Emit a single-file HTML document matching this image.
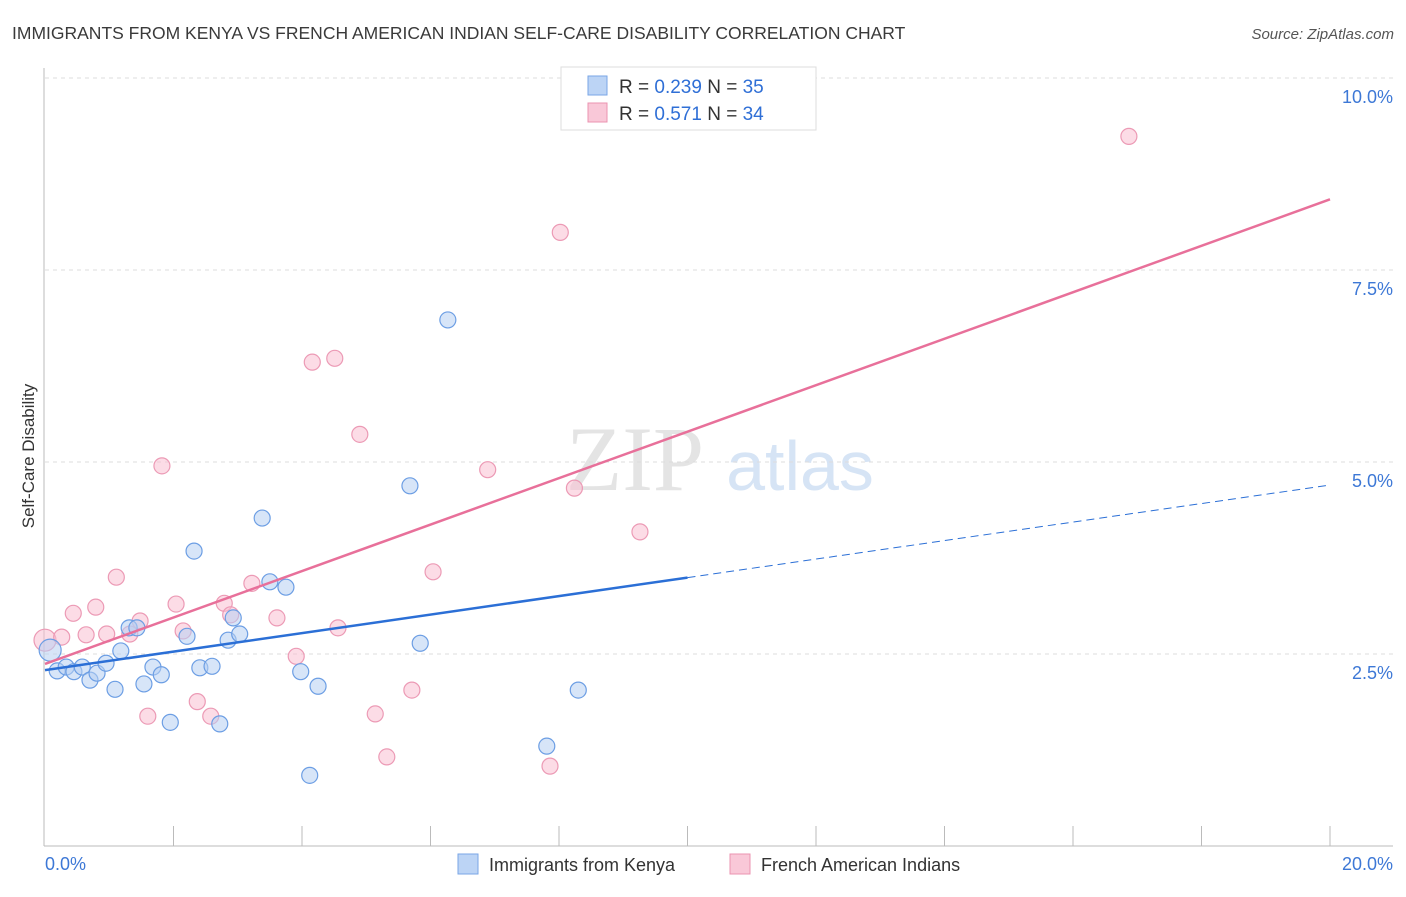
<!DOCTYPE html>
<html><head><meta charset="utf-8"><style>
body{margin:0;background:#fff;font-family:"Liberation Sans",sans-serif}
</style></head><body>
<svg width="1406" height="892" xmlns="http://www.w3.org/2000/svg" font-family="Liberation Sans, sans-serif">
<text x="12" y="39" font-size="17.5" fill="#3a3a3a">IMMIGRANTS FROM KENYA VS FRENCH AMERICAN INDIAN SELF-CARE DISABILITY CORRELATION CHART</text>
<text x="1394" y="39" font-size="15" fill="#555" font-style="italic" text-anchor="end">Source: ZipAtlas.com</text>
<g>
<text x="635" y="490" font-size="92" font-family="Liberation Serif, serif" fill="#e4e4e4" text-anchor="middle">ZIP</text>
<text x="800" y="490" font-size="70" fill="#d6e4f5" text-anchor="middle">atlas</text>
</g>
<g id="grid"></g>
<g id="axes"></g>
<g id="marks"></g>
<text transform="translate(34,456) rotate(-90)" font-size="17" fill="#333" text-anchor="middle">Self-Care Disability</text>
<g>
<rect x="561" y="67" width="255" height="63" fill="#fff" stroke="#ddd"/>
<rect x="588" y="76" width="19" height="19" fill="#bcd4f5" stroke="#7aa6e6"/>
<rect x="588" y="103" width="19" height="19" fill="#f9c8d8" stroke="#eb93b0"/>
<text x="619" y="93" font-size="19" fill="#333">R = <tspan fill="#2f6fd6">0.239</tspan>   N = <tspan fill="#2f6fd6">35</tspan></text>
<text x="619" y="120" font-size="19" fill="#333">R =  <tspan fill="#2f6fd6">0.571</tspan>   N = <tspan fill="#2f6fd6">34</tspan></text>
</g>
<g>
<rect x="458" y="854" width="20" height="20" fill="#bcd4f5" stroke="#7aa6e6"/>
<text x="489" y="871" font-size="18" fill="#333">Immigrants from Kenya</text>
<rect x="730" y="854" width="20" height="20" fill="#f9c8d8" stroke="#eb93b0"/>
<text x="761" y="871" font-size="18" fill="#333">French American Indians</text>
</g>
</svg>
<script>
const yTicks=[2.5,5.0,7.5,10.0];
const yTickLabels=["2.5%","5.0%","7.5%","10.0%"];
const xEndLabels=["0.0%","20.0%"];
const kenyaX=[0.08,0.19,0.33,0.45,0.58,0.70,0.81,0.95,1.09,1.18,1.31,1.43,1.54,1.68,1.81,1.95,2.21,2.32,2.41,2.60,2.72,2.85,2.93,3.03,3.38,3.50,3.75,3.98,4.12,4.25,5.68,5.84,6.27,7.81,8.30];
const kenyaY=[2.55,2.28,2.33,2.27,2.33,2.16,2.25,2.38,2.04,2.54,2.84,2.84,2.11,2.33,2.23,1.61,2.73,3.84,2.32,2.34,1.59,2.68,2.97,2.76,4.27,3.44,3.37,2.27,0.92,2.08,4.69,2.64,6.85,1.30,2.03];
const frenchX=[0.00,0.26,0.44,0.64,0.79,0.96,1.11,1.32,1.48,1.60,1.82,2.04,2.15,2.37,2.58,2.79,2.89,3.22,3.61,3.91,4.16,4.51,4.56,4.90,5.14,5.32,5.71,6.04,6.89,7.86,8.02,8.24,9.26,16.87];
const frenchY=[2.68,2.72,3.03,2.75,3.11,2.76,3.50,2.76,2.93,1.69,4.95,3.15,2.80,1.88,1.69,3.16,3.01,3.42,2.97,2.47,6.30,6.35,2.84,5.36,1.72,1.16,2.03,3.57,4.90,1.04,7.99,4.66,4.09,9.24];
const kenyaTrend=[2.29,4.70];
const frenchTrend=[2.37,8.42];
const NS="http://www.w3.org/2000/svg";
const X=v=>45+v/20*1285, Y=v=>846-v/10*768;
function mk(p,t,a){const e=document.createElementNS(NS,t);for(const k in a)e.setAttribute(k,a[k]);p.appendChild(e);return e;}
const grid=document.getElementById('grid'),axes=document.getElementById('axes'),marks=document.getElementById('marks');
yTicks.forEach((t,i)=>{
 const l=mk(grid,'line',{x1:45,x2:1393,y1:Y(t),y2:Y(t),stroke:'#ddd','stroke-dasharray':'4,4'});
 
 
 const tx=mk(axes,'text',{x:1393,y:Y(t)+25,'font-size':18,fill:'#3d78d6','text-anchor':'end'});
 tx.textContent=yTickLabels[i];
 
 
});
let a=mk(axes,'line',{x1:44,x2:44,y1:68,y2:846,stroke:'#bbb'});


a=mk(axes,'line',{x1:44,x2:1393,y1:846,y2:846,stroke:'#bbb'});


for(let i=1;i<=10;i++){
 const t=mk(axes,'line',{x1:X(i*2),x2:X(i*2),y1:826,y2:846,stroke:'#bbb'});
 
 
}
[[0,'start',45],[20,'end',1393]].forEach((d,i)=>{
 const tx=mk(axes,'text',{x:d[2],y:870,'font-size':18,fill:'#3d78d6','text-anchor':d[1]});
 tx.textContent=xEndLabels[i];
 
 
});
function dots(xs,ys,fill,stroke,name){
 xs.forEach((x,i)=>{
  const c=mk(marks,'circle',{cx:X(x),cy:Y(ys[i]),r:(i==0?11:8),fill:fill,stroke:stroke,'stroke-width':1.2,'fill-opacity':0.55});
  
  
 });
}
dots(frenchX,frenchY,'#f9c0d2','#ec9ab5','french-point');
dots(kenyaX,kenyaY,'#b6cff3','#6c9ee4','kenya-point');
const mid=10;
const kMid=kenyaTrend[0]+(kenyaTrend[1]-kenyaTrend[0])*mid/20;
let l=mk(marks,'line',{x1:X(0),y1:Y(kenyaTrend[0]),x2:X(mid),y2:Y(kMid),stroke:'#2b6fd6','stroke-width':2.5});


l=mk(marks,'line',{x1:X(mid),y1:Y(kMid),x2:X(20),y2:Y(kenyaTrend[1]),stroke:'#2b6fd6','stroke-width':1,'stroke-dasharray':'8,5'});


l=mk(marks,'line',{x1:X(0),y1:Y(frenchTrend[0]),x2:X(20),y2:Y(frenchTrend[1]),stroke:'#e8709a','stroke-width':2.5});


</script>
</body></html>
